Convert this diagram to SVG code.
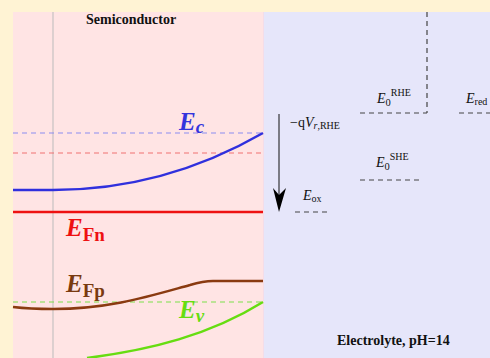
<svg xmlns="http://www.w3.org/2000/svg" width="490" height="358" viewBox="0 0 490 358">
<defs>
<style>
.t{font-family:"Liberation Serif","Times New Roman",serif;fill:#111}
.b{font-weight:bold}
.i{font-style:italic}
.lab{font-family:"Liberation Serif","Times New Roman",serif;font-weight:bold;font-size:25px}
.dash{stroke:#444;stroke-width:1.2;stroke-dasharray:5,4;fill:none}
</style>
</defs>
<rect x="0" y="0" width="490" height="358" fill="#FFF3D4"/>
<g id="semiconductor">
<rect x="13" y="12" width="250" height="346" fill="#FFE4E4"/>
<line x1="53" y1="12" x2="53" y2="358" stroke="#bbb" stroke-width="1"/>
<text class="t b" x="86" y="24" font-size="14">Semiconductor</text>
</g>
<g id="electrolyte">
<rect x="263" y="12" width="227" height="346" fill="#E6E6FA"/>
<line x1="263.5" y1="12" x2="263.5" y2="358" stroke="#f4dde8" stroke-width="1"/>
<text class="t b" x="337" y="345" font-size="14">Electrolyte, pH=14</text>
</g>
<g id="connectors">
<line x1="13" y1="133" x2="263" y2="133" stroke="#8c8cf0" stroke-width="1.2" stroke-dasharray="5,4"/>
<line x1="13" y1="153" x2="263" y2="153" stroke="#f07070" stroke-width="1" stroke-dasharray="5,4"/>
<line x1="13" y1="302" x2="263" y2="302" stroke="#7ce04a" stroke-width="1.2" stroke-dasharray="5,4"/>
<path d="M13,190 L53,190 C120,190 190,175 263,133" stroke="#3030dd" stroke-width="2.5" fill="none"/>
<line x1="13" y1="212" x2="263" y2="212" stroke="#ee1111" stroke-width="2.5"/>
<path d="M13,307 C30,309 45,309 53,309 C110,309 150,296 190,285 C200,282 205,281 213,281 L263,281" stroke="#8a3a10" stroke-width="2.5" fill="none"/>
<path d="M87,358 C150,350 210,335 263,302" stroke="#66dd11" stroke-width="2.5" fill="none"/>
<line x1="279" y1="114" x2="279" y2="195" stroke="#111" stroke-width="1"/>
<path d="M273,188 L279,212 L286,188 L279,195 Z" fill="#000"/>
<line class="dash" x1="427" y1="12" x2="427" y2="113"/>
<line class="dash" x1="360" y1="113" x2="427" y2="113"/>
<line class="dash" x1="459" y1="113" x2="490" y2="113"/>
<line class="dash" x1="360" y1="180" x2="423" y2="180"/>
<line class="dash" x1="295" y1="212" x2="330" y2="212"/>
</g>
<g id="label-Ec"><text class="lab" fill="#3434dd" x="179" y="130"><tspan class="i">E</tspan><tspan class="i" font-size="19" dy="3">c</tspan></text></g>
<g id="label-EFn"><text class="lab" fill="#ee1111" x="66" y="236"><tspan class="i">E</tspan><tspan font-size="19" dy="5">Fn</tspan></text></g>
<g id="label-EFp"><text class="lab" fill="#7a3a10" x="66" y="292"><tspan class="i">E</tspan><tspan font-size="19" dy="5">Fp</tspan></text></g>
<g id="label-Ev"><text class="lab" fill="#66dd11" x="179" y="318"><tspan class="i">E</tspan><tspan class="i" font-size="19" dy="4">v</tspan></text></g>
<g id="label-qV"><text class="t" x="290" y="127" font-size="14">−q<tspan class="i">V</tspan><tspan font-size="10" dy="2"><tspan class="i">r</tspan>,RHE</tspan></text></g>
<g id="label-E0RHE"><text class="t" x="377" y="103" font-size="14"><tspan class="i">E</tspan><tspan font-size="10.5" dy="3">0</tspan><tspan font-size="10" dy="-10">RHE</tspan></text></g>
<g id="label-Ered"><text class="t" x="466" y="103" font-size="14"><tspan class="i">E</tspan><tspan font-size="10" dy="2">red</tspan></text></g>
<g id="label-E0SHE"><text class="t" x="376" y="167" font-size="14"><tspan class="i">E</tspan><tspan font-size="10.5" dy="3">0</tspan><tspan font-size="10" dy="-10">SHE</tspan></text></g>
<g id="label-Eox"><text class="t" x="303" y="200" font-size="14"><tspan class="i">E</tspan><tspan font-size="10" dy="2">ox</tspan></text></g>
</svg>
